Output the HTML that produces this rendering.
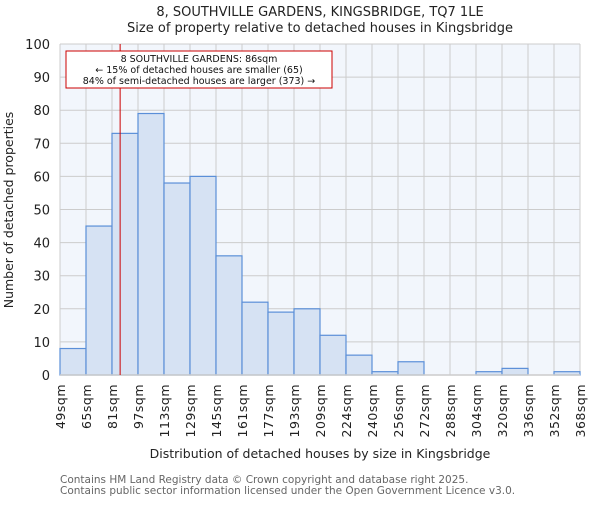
<!DOCTYPE html>
<html><head><meta charset="utf-8"><style>
body{margin:0;background:#fff;}
svg text{font-family:"DejaVu Sans","Liberation Sans",sans-serif;}
</style></head><body>
<svg id="chart" width="600" height="500" xmlns="http://www.w3.org/2000/svg">
<text x="320" y="16" text-anchor="middle" font-size="13" fill="#222">8, SOUTHVILLE GARDENS, KINGSBRIDGE, TQ7 1LE</text>
<text x="320" y="32" text-anchor="middle" font-size="13" fill="#222">Size of property relative to detached houses in Kingsbridge</text>
<rect x="60" y="44" width="520" height="331" fill="#f2f6fc"/>
<g id="grid"></g><g id="bars"></g><g id="yticks"></g><g id="xticks"></g>
<text x="320" y="458" text-anchor="middle" font-size="12.5" fill="#222">Distribution of detached houses by size in Kingsbridge</text>
<text transform="translate(13,210) rotate(-90)" text-anchor="middle" font-size="12.5" fill="#222">Number of detached properties</text>
<text x="60" y="483" font-size="10.5" fill="#666">Contains HM Land Registry data © Crown copyright and database right 2025.</text>
<text x="60" y="494" font-size="10.5" fill="#666">Contains public sector information licensed under the Open Government Licence v3.0.</text>
</svg>
<script>
const tickLabels=["49sqm","65sqm","81sqm","97sqm","113sqm","129sqm","145sqm","161sqm","177sqm","193sqm","209sqm","224sqm","240sqm","256sqm","272sqm","288sqm","304sqm","320sqm","336sqm","352sqm","368sqm"];
const counts=[8,45,73,79,58,60,36,22,19,20,12,6,1,4,0,0,1,2,0,1];
const yTicks=[0,10,20,30,40,50,60,70,80,90,100];
const propertySize=86;
const binStart=49, binWidth=16;
const NS="http://www.w3.org/2000/svg";
const X0=60,X1=580,Y0=375,Y1=44;
const bw=(X1-X0)/counts.length;
const xs=i=>X0+i*bw;
const ys=v=>Y0-(v/100)*(Y0-Y1);
function mk(t,a,p){const e=document.createElementNS(NS,t);for(const k in a)e.setAttribute(k,a[k]);document.getElementById(p).appendChild(e);return e;}
yTicks.forEach(v=>{
 const l=mk('line',{x1:X0,x2:X1,y1:ys(v),y2:ys(v),stroke:'#cccccc','stroke-width':1},'grid');
 
 
 const t=mk('text',{x:50,y:ys(v)+5,'text-anchor':'end','font-size':13,fill:'#222'},'yticks');
 t.textContent=v;
 
 
});
tickLabels.forEach((s,i)=>{
 const l=mk('line',{x1:xs(i),x2:xs(i),y1:Y1,y2:Y0,stroke:'#cccccc','stroke-width':1},'grid');
 
 
 const t=mk('text',{transform:`translate(${xs(i)+5},384) rotate(-90)`,'text-anchor':'end','font-size':12.5,fill:'#222','letter-spacing':'0.5'},'xticks');
 t.textContent=s;
 
 
});
counts.forEach((c,i)=>{
 const r=mk('rect',{x:xs(i),y:ys(c),width:bw,height:Y0-ys(c),fill:'#d6e2f3',stroke:'#5b8fd8','stroke-width':1.2},'bars');
 
 
});
const axis=mk('line',{x1:X0,x2:X1,y1:Y0,y2:Y0,stroke:'#cccccc','stroke-width':1.5},'bars');


const px=X0+(propertySize-binStart)/binWidth*bw;
const ml=mk('line',{x1:px,x2:px,y1:Y1,y2:Y0,stroke:'#cc0000','stroke-width':1},'bars');


const box=mk('rect',{x:66,y:51,width:266,height:37,fill:'#fff',stroke:'#cc0000','stroke-width':1},'bars');


["8 SOUTHVILLE GARDENS: 86sqm","← 15% of detached houses are smaller (65)","84% of semi-detached houses are larger (373) →"].forEach((s,i)=>{
 const t=mk('text',{x:199,y:62+i*11,'text-anchor':'middle','font-size':9.5,fill:'#111'},'bars');
 t.textContent=s;
 
 
});
</script>
</body></html>
